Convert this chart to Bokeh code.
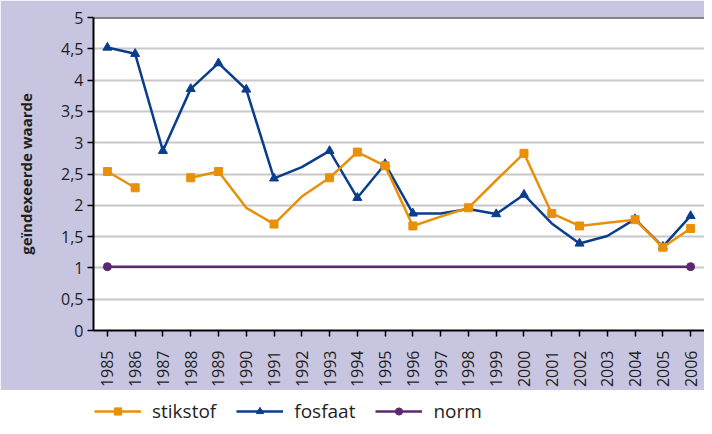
import math
from bokeh.plotting import figure
from bokeh.models import (ColumnDataSource, FactorRange, Range1d, FixedTicker, Span,
                          Legend, LegendItem)
from bokeh.layouts import column
from bokeh.embed import file_html
from bokeh.resources import INLINE

nan = float("nan")

years = [str(y) for y in range(1985, 2007)]
stikstof = [2.54, 2.28, nan, 2.44, 2.54, 1.96, 1.70, 2.14, 2.44, 2.85, 2.63,
            1.67, 1.82, 1.96, 2.40, 2.83, 1.87, 1.67, 1.72, 1.77, 1.33, 1.63]
stikstof_marker = [1, 1, 0, 1, 1, 0, 1, 0, 1, 1, 1, 1, 0, 1, 0, 1, 1, 1, 0, 1, 1, 1]
fosfaat = [4.52, 4.42, 2.87, 3.86, 4.27, 3.85, 2.43, 2.61, 2.87, 2.12, 2.66,
           1.87, 1.87, 1.94, 1.86, 2.17, 1.71, 1.39, 1.51, 1.78, 1.34, 1.83]
fosfaat_marker = [1, 1, 1, 1, 1, 1, 1, 0, 1, 1, 1, 1, 0, 0, 1, 1, 0, 1, 0, 1, 1, 1]
norm = [1.02] * 22
norm_marker = [1] + [0] * 20 + [1]
y_ticks = [0, 0.5, 1, 1.5, 2, 2.5, 3, 3.5, 4, 4.5, 5]
y_tick_labels = ["0", "0,5", "1", "1,5", "2", "2,5", "3", "3,5", "4", "4,5", "5"]

ORANGE = "#e8900a"
BLUE = "#0a3d8c"
PURPLE = "#5a2a6e"
LAVENDER = "#c8c5e0"
FONT = "Open Sans"
TXT = "#1e1e1e"

p = figure(width=704, height=390, x_range=FactorRange(*years), y_range=Range1d(0, 5),
           output_backend="svg", toolbar_location=None,
           min_border_left=93, min_border_top=17, min_border_right=0, min_border_bottom=59)
p.border_fill_color = LAVENDER
p.background_fill_color = "white"
p.outline_line_color = None

p.xgrid.grid_line_color = None
p.ygrid.grid_line_color = "#c8c8c8"
p.ygrid.grid_line_width = 2
p.yaxis.ticker = FixedTicker(ticks=y_ticks)
p.yaxis.major_label_overrides = {t: l for t, l in zip(y_ticks, y_tick_labels)}

for ax in (p.xaxis[0], p.yaxis[0]):
    ax.axis_line_color = "#000000"
    ax.axis_line_width = 2
    ax.major_tick_line_color = "#000000"
    ax.major_tick_line_width = 1.5
    ax.major_tick_out = 6
    ax.major_tick_in = 0
    ax.minor_tick_line_color = None
    ax.major_label_text_font = FONT
    ax.major_label_text_color = TXT

p.yaxis.major_label_text_font_size = "16px"
p.yaxis.major_label_standoff = 4
p.yaxis.axis_label = "geïndexeerde waarde"
p.yaxis.axis_label_text_font = FONT
p.yaxis.axis_label_text_font_style = "bold"
p.yaxis.axis_label_text_font_size = "15px"
p.yaxis.axis_label_text_color = TXT
p.yaxis.axis_label_standoff = 22

p.xaxis.major_label_text_font_size = "16px"
p.xaxis.major_label_orientation = math.pi / 2
p.xaxis.major_label_standoff = 14

p.add_layout(Span(location=5, dimension="width", line_color="#111111", line_width=2))


def marked(xs, ys, flags):
    return ([x for x, f in zip(xs, flags) if f], [y for y, f in zip(ys, flags) if f])


p.line(years, norm, line_color=PURPLE, line_width=2.5)
mx, my = marked(years, norm, norm_marker)
p.scatter(mx, my, marker="circle", size=8, fill_color=PURPLE, line_color=PURPLE)

p.line(years, fosfaat, line_color=BLUE, line_width=2.5)
mx, my = marked(years, fosfaat, fosfaat_marker)
p.scatter(mx, my, marker="triangle", size=9, fill_color=BLUE, line_color=BLUE)

p.line(years, stikstof, line_color=ORANGE, line_width=2.5)
mx, my = marked(years, stikstof, stikstof_marker)
p.scatter(mx, my, marker="square", size=8, fill_color=ORANGE, line_color=ORANGE)

# legend panel
q = figure(width=704, height=36, x_range=Range1d(0, 1), y_range=Range1d(0, 1),
           output_backend="svg", toolbar_location=None,
           min_border=0, min_border_left=0, min_border_right=0, min_border_top=0, min_border_bottom=0)
q.axis.visible = False
q.grid.visible = False
q.outline_line_color = None
q.border_fill_color = "white"

items = []
for name, col, mk in (("stikstof", ORANGE, "square"), ("fosfaat", BLUE, "triangle"), ("norm", PURPLE, "circle")):
    src = ColumnDataSource(data=dict(x=[5, 6], y=[5, 5]))
    lr = q.line("x", "y", source=src, line_color=col, line_width=2.5)
    sr = q.scatter("x", "y", source=src, marker=mk, size=9 if mk == "triangle" else 8,
                   fill_color=col, line_color=col)
    items.append(LegendItem(label=name, renderers=[lr, sr]))

# the legend panel's frame is aligned with the chart frame (left edge at 93 px)
legend = Legend(items=items, orientation="horizontal", location=(1, 2),
                glyph_width=47, glyph_height=18, label_height=18, label_standoff=11,
                spacing=20, padding=0, margin=0, border_line_color=None,
                background_fill_alpha=0, label_text_font=FONT, label_text_font_size="19px",
                label_text_color=TXT, label_text_baseline="middle")
q.add_layout(legend)

layout = column(p, q, spacing=0)
open("out.html", "w").write(file_html(layout, INLINE))
